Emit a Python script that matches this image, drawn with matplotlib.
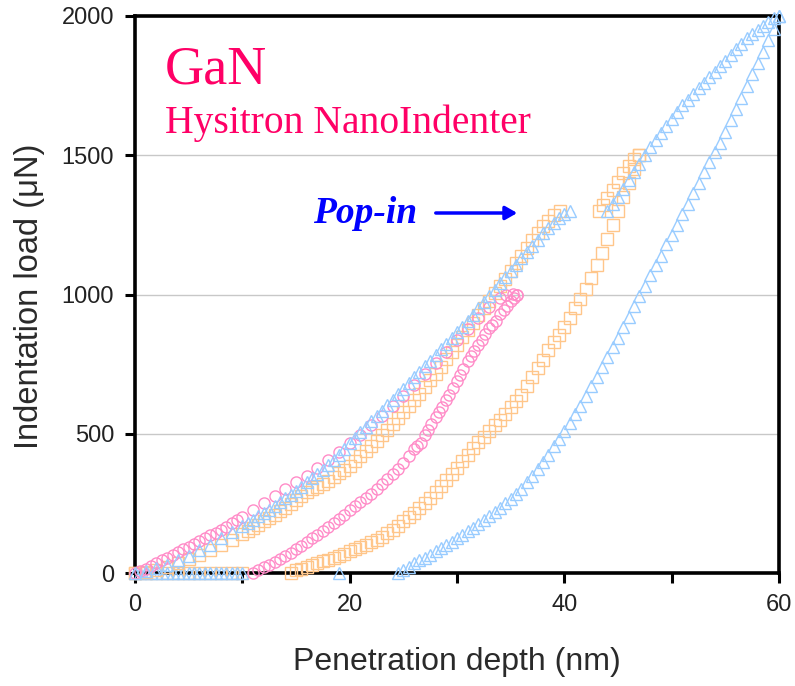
import matplotlib
matplotlib.use("Agg")
import matplotlib.pyplot as plt

# ---------------- data ----------------
# 1000 uN indent (pink circles)
pink_load_x = [0, 0.5, 1, 1.5, 2, 2.5, 3, 3.5, 4, 4.5, 5, 5.5, 6, 6.5, 7, 7.5, 8, 8.5, 9, 9.5, 10,
               11, 12, 13, 14, 15, 16, 17, 18, 19, 20, 21, 22, 23, 24, 25, 26, 27, 28, 29, 30,
               31, 32, 33, 34, 34.6, 35.2, 35.6]
pink_load_y = [0, 8, 15, 25, 35, 45, 55, 65, 75, 85, 95, 105, 115, 125, 135, 145, 155, 166, 178, 189, 200,
               225, 250, 275, 300, 325, 350, 378, 405, 435, 465, 497, 530, 565, 600, 637, 675, 715, 755, 795, 835,
               875, 915, 955, 988, 1000, 1002, 1000]
pink_unload_x = [35.6, 35.3, 35, 34.7, 34.4, 34, 33.6, 33.3, 33, 32.6, 32.3, 32, 31.6, 31.3, 31, 30.6, 30.3, 30,
                 29.6, 29.3, 29, 28.6, 28.3, 28, 27.6, 27.3, 27, 26.6, 26.3, 26, 25.5, 25, 24.5, 24, 23.5, 23,
                 22.5, 22, 21.5, 21, 20.5, 20, 19.5, 19, 18.5, 18, 17.5, 17, 16.5, 16, 15.5, 15, 14.5, 14,
                 13.5, 13, 12.5, 12, 11.5, 11]
pink_unload_y = [1000, 988, 975, 960, 945, 930, 905, 890, 880, 858, 838, 820, 796, 778, 760, 732, 712, 690,
                 665, 640, 620, 596, 578, 560, 534, 515, 495, 468, 455, 445, 420, 395, 375, 355, 338, 320,
                 302, 285, 270, 255, 240, 225, 210, 195, 180, 165, 152, 138, 124, 110, 98, 85, 72, 60,
                 50, 40, 30, 20, 10, 0]

# 1500 uN indent (orange squares)
orange_load_x = [0, 1, 2, 3, 4, 5, 6, 7, 8, 9, 10, 10.5, 11, 11.5, 12, 12.5, 13, 13.5, 14, 14.5, 15, 15.5, 16,
                 16.5, 17, 17.5, 18, 18.5, 19, 19.5, 20, 20.5, 21, 21.5, 22, 22.5, 23, 23.5, 24, 24.5, 25,
                 25.5, 26, 26.5, 27, 27.5, 28, 28.5, 29, 29.5, 30, 30.5, 31, 31.5, 32, 32.5, 33, 33.5, 34,
                 34.5, 35, 35.5, 36, 36.5, 37, 37.5, 38, 38.5, 39, 39.6,
                 43.2, 43.6, 44, 44.5, 45, 45.5, 46, 46.5, 47]
orange_load_y = [0, 5, 10, 20, 35, 50, 65, 82, 100, 120, 140, 151, 162, 173, 185, 197, 210, 222, 235, 248, 262, 276, 290,
                 300, 310, 320, 330, 344, 358, 371, 385, 402, 420, 437, 455, 475, 495, 515, 535, 556, 578,
                 599, 620, 644, 668, 692, 715, 741, 768, 794, 820, 846, 872, 898, 925, 951, 978, 1004, 1030,
                 1057, 1085, 1112, 1140, 1167, 1195, 1220, 1245, 1265, 1285, 1300,
                 1300, 1320, 1345, 1375, 1405, 1435, 1460, 1485, 1500]
orange_unload_x = [47, 46.5, 46, 45.5, 45, 44.5, 44, 43.5, 43, 42.5, 42, 41.5, 41, 40.5, 40, 39.5, 39, 38.5, 38,
                   37.5, 37, 36.5, 36, 35.5, 35, 34.5, 34, 33.5, 33, 32.5, 32, 31.5, 31, 30.5, 30, 29.5, 29,
                   28.5, 28, 27.5, 27, 26.5, 26, 25.5, 25, 24.5, 24, 23.5, 23, 22.5, 22, 21.5, 21, 20.5, 20,
                   19.5, 19, 18.5, 18, 17.5, 17, 16.5, 16, 15.5, 15, 14.5]
orange_unload_y = [1500, 1450, 1400, 1350, 1300, 1250, 1200, 1150, 1105, 1060, 1020, 985, 950, 915, 885, 855, 830, 800, 765,
                   735, 705, 672, 640, 618, 595, 572, 550, 530, 510, 490, 470, 448, 425, 402, 378, 356, 335,
                   312, 290, 270, 250, 232, 215, 200, 185, 170, 155, 142, 130, 120, 110, 100, 92, 85, 78,
                   70, 62, 55, 48, 42, 35, 28, 22, 16, 10, 0]

# 2000 uN indent (blue triangles)
blue_load_x = [0, 1, 2, 3, 4, 5, 6, 7, 8, 9, 10, 10.5, 11, 11.5, 12, 12.5, 13, 13.5, 14, 14.5, 15, 15.5, 16,
               16.5, 17, 17.5, 18, 18.5, 19, 19.5, 20, 20.5, 21, 21.5, 22, 22.5, 23, 23.5, 24, 24.5, 25,
               25.5, 26, 26.5, 27, 27.5, 28, 28.5, 29, 29.5, 30, 30.5, 31, 31.5, 32, 32.5, 33, 33.5, 34,
               34.5, 35, 35.5, 36, 36.5, 37, 37.5, 38, 38.5, 39, 39.5, 40, 40.5,
               44, 44.5, 45, 45.5, 46, 46.5, 47, 47.5, 48, 48.5, 49, 49.5, 50, 50.5, 51, 51.5, 52, 52.5,
               53, 53.5, 54, 54.5, 55, 55.5, 56, 56.5, 57, 57.5, 58, 58.5, 59, 59.5, 60]
blue_load_y = [0, 8, 18, 30, 45, 62, 82, 102, 125, 147, 170, 181, 192, 203, 215, 228, 240, 254, 268, 281, 295, 310, 325,
               340, 355, 371, 388, 406, 425, 445, 465, 485, 505, 525, 545, 564, 583, 602, 622, 642, 662,
               682, 702, 722, 742, 763, 783, 803, 823, 844, 865, 885, 905, 927, 950, 972, 995, 1017, 1040,
               1062, 1085, 1107, 1130, 1152, 1175, 1197, 1220, 1238, 1255, 1273, 1290, 1300,
               1300, 1325, 1350, 1380, 1410, 1440, 1470, 1500, 1530, 1555, 1580, 1605, 1630, 1655, 1680, 1700, 1720, 1740,
               1760, 1780, 1800, 1820, 1840, 1860, 1880, 1900, 1920, 1935, 1950, 1965, 1980, 1992, 2000]
blue_unload_x = [60, 59.5, 59, 58.5, 58, 57.5, 57, 56.5, 56, 55.5, 55, 54.5, 54, 53.5, 53, 52.5, 52, 51.5, 51,
                 50.5, 50, 49.5, 49, 48.5, 48, 47.5, 47, 46.5, 46, 45.5, 45, 44.5, 44, 43.5, 43, 42.5, 42,
                 41.5, 41, 40.5, 40, 39.5, 39, 38.5, 38, 37.5, 37, 36.5, 36, 35.5, 35, 34.5, 34, 33.5, 33,
                 32.5, 32, 31.5, 31, 30.5, 30, 29.5, 29, 28.5, 28, 27.5, 27, 26.5, 26, 25.5, 25, 24.5]
blue_unload_y = [2000, 1955, 1915, 1870, 1830, 1790, 1750, 1705, 1665, 1625, 1585, 1545, 1510, 1475, 1440, 1400, 1365, 1325, 1290,
                 1250, 1215, 1180, 1140, 1105, 1070, 1030, 995, 960, 920, 885, 845, 810, 775, 740, 705, 670, 635,
                 600, 570, 540, 510, 480, 455, 425, 400, 375, 350, 325, 300, 285, 265, 250, 235, 220, 205,
                 190, 175, 162, 150, 137, 125, 113, 102, 90, 78, 66, 55, 45, 35, 22, 12, 0]

# points sitting on the zero-load baseline
blue_base_x = [0, 0.5, 1, 1.5, 2, 2.5, 3, 3.5, 4, 4.5, 5, 5.5, 6, 6.5, 7, 7.5, 8, 8.5, 9, 9.5, 10, 19]
blue_base_y = [0] * len(blue_base_x)
orange_base_x = [0, 1, 2, 3, 4, 5, 6, 7, 8, 9, 10]
orange_base_y = [0] * len(orange_base_x)

x_ticks = [0, 20, 40, 60]
y_ticks = [0, 500, 1000, 1500, 2000]

# ---------------- figure ----------------
PINK = "#FF8CC8"
ORANGE = "#FFC68A"
BLUE = "#99CCFF"

fig = plt.figure(figsize=(7.95, 6.86), dpi=100)
ax = fig.add_axes([135 / 795, 1 - 573 / 686, (779 - 135) / 795, (573 - 16) / 686])

mk = dict(linestyle="none", markerfacecolor="none", clip_on=False, zorder=3, mew=1.0)
ax.plot(orange_base_x, orange_base_y, marker="s", ms=8, mec=ORANGE, **mk)
ax.plot(blue_base_x, blue_base_y, marker="^", ms=9, mec=BLUE, **mk)
ax.plot(orange_load_x, orange_load_y, marker="s", ms=8, mec=ORANGE, **mk)
ax.plot(orange_unload_x, orange_unload_y, marker="s", ms=8, mec=ORANGE, **mk)
ax.plot(pink_load_x, pink_load_y, marker="o", ms=8, mec=PINK, **mk)
ax.plot(pink_unload_x, pink_unload_y, marker="o", ms=8, mec=PINK, **mk)
ax.plot(blue_load_x, blue_load_y, marker="^", ms=9, mec=BLUE, **mk)
ax.plot(blue_unload_x, blue_unload_y, marker="^", ms=9, mec=BLUE, **mk)

ax.set_xlim(0, 60)
ax.set_ylim(0, 2000)
ax.set_xticks(x_ticks)
ax.set_xticks(range(0, 61, 10), minor=True)
ax.set_yticks(y_ticks)

for s in ax.spines.values():
    s.set_linewidth(2.6)
    s.set_color("black")
    s.set_zorder(2)

ax.tick_params(axis="both", which="both", direction="out", width=2.2, length=7,
               labelsize=17, labelcolor="#222222", pad=8)
ax.tick_params(axis="x", which="minor", length=7)
for lab in ax.get_xticklabels() + ax.get_yticklabels():
    lab.set_fontfamily("Liberation Sans")

ax.yaxis.grid(True, color="#C8C8C8", linewidth=1.0)
ax.set_axisbelow(True)

fig.text(457 / 795, 1 - 662 / 686, "Penetration depth (nm)", fontsize=23, family="Liberation Sans",
         color="#2A2A2A", ha="center", va="center")
fig.text(30 / 795, 1 - 296 / 686, "Indentation load (\u03bcN)", fontsize=23.5, family="Liberation Sans",
         color="#2A2A2A", ha="center", va="center", rotation=90)

fig.text(165 / 795, 1 - 83 / 686, "GaN", fontsize=39, family="Liberation Serif",
         color="#FF0066", ha="left", va="baseline")
fig.text(165 / 795, 1 - 133 / 686, "Hysitron NanoIndenter", fontsize=28.5, family="Liberation Serif",
         color="#FF0066", ha="left", va="baseline")
fig.text(313 / 795, 1 - 223 / 686, "Pop-in", fontsize=27, family="Liberation Serif",
         style="italic", weight="bold", color="#0000FF", ha="left", va="baseline")
fig.add_artist(matplotlib.patches.FancyArrowPatch(
    (433 / 795, 1 - 213 / 686), (520 / 795, 1 - 213 / 686), transform=fig.transFigure,
    arrowstyle="-|>,head_length=7,head_width=4", color="#0000FF", linewidth=2.5, mutation_scale=1))

fig.savefig("out.png", dpi=100)
